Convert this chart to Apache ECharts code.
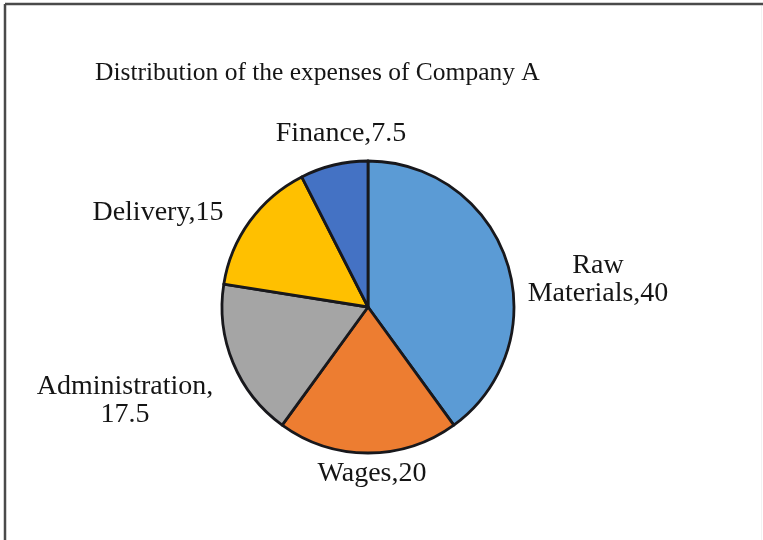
<!DOCTYPE html>
<html>
<head>
<meta charset="utf-8">
<script src="https://cdn.jsdelivr.net/npm/echarts@6/dist/echarts.min.js"></script>
<style>
  html, body { margin: 0; padding: 0; background: #fff; }
  #chart { width: 763px; height: 540px; }
</style>
</head>
<body>
<div id="chart"></div>
<script>
// Expense categories and their shares (percent)
const categories = ['Raw Materials', 'Wages', 'Administration', 'Delivery', 'Finance'];
const shares = [40, 20, 17.5, 15, 7.5];
const sliceColors = ['#5B9BD5', '#ED7D31', '#A5A5A5', '#FFC000', '#4472C4'];

// Pie geometry
const CX = 368, CY = 307, R = 146;

// Label centres, relative to the pie centre
const labelOffsets = [[230, -27], [4, 167], [-243, 94], [-210, -94], [-27, -173]];

const chart = echarts.init(document.getElementById('chart'));

const serif = '"Liberation Serif", "DejaVu Serif", serif';

chart.setOption({
  backgroundColor: '#ffffff',
  animation: false,
  title: {
    text: 'Distribution of the expenses of Company A',
    left: 90,
    top: 55,
    textStyle: { fontFamily: serif, fontSize: 25.5, fontWeight: 'normal', color: '#151515' }
  },
  graphic: [
    { type: 'line', shape: { x1: 5, y1: 4, x2: 763, y2: 4 }, style: { stroke: '#4a4a4a', lineWidth: 2.5 } },
    { type: 'line', shape: { x1: 5, y1: 4, x2: 5, y2: 540 }, style: { stroke: '#4a4a4a', lineWidth: 2.5 } },
    { type: 'line', shape: { x1: 761.5, y1: 6, x2: 761.5, y2: 540 }, style: { stroke: '#f2f2f2', lineWidth: 1 } }
  ],
  series: [{
    type: 'pie',
    center: [CX, CY],
    radius: R,
    startAngle: 90,
    clockwise: true,
    avoidLabelOverlap: false,
    silent: true,
    itemStyle: { borderColor: '#18181c', borderWidth: 2.8 },
    label: {
      show: true,
      position: 'outside',
      fontFamily: serif,
      fontSize: 28,
      lineHeight: 28,
      color: '#151515',
      align: 'center',
      formatter: function (p) {
        if (p.name === 'Raw Materials') return 'Raw\nMaterials,' + p.value;
        if (p.name === 'Administration') return 'Administration,\n' + p.value;
        return p.name + ',' + p.value;
      }
    },
    labelLine: { show: false },
    labelLayout: function (params) {
      const o = labelOffsets[params.dataIndex];
      return { x: CX + o[0], y: CY + o[1], align: 'center', verticalAlign: 'middle' };
    },
    data: categories.map((name, i) => ({
      name: name,
      value: shares[i],
      itemStyle: { color: sliceColors[i] }
    }))
  }]
});
</script>
</body>
</html>
